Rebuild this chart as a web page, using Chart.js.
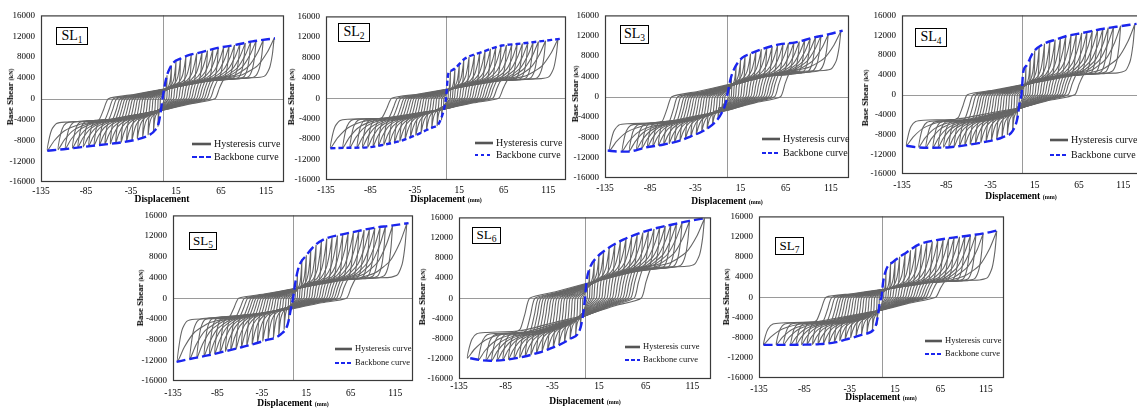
<!DOCTYPE html>
<html>
<head>
<meta charset="utf-8">
<script src="https://cdn.jsdelivr.net/npm/chart.js@4.4.0/dist/chart.umd.min.js"></script>
<style>
  body { margin: 0; background: #fff; width: 1137px; height: 410px; overflow: hidden; position: relative;
         font-family: 'Liberation Serif', 'Times New Roman', serif; color: #000; }
  canvas { position: absolute; }
  .ytitle { position: absolute; transform: translate(-50%, -50%) rotate(-90deg); white-space: nowrap; font-weight: bold; font-size: 9px; }
  .xtitle { position: absolute; transform: translate(-50%, -50%); white-space: nowrap; font-weight: bold; font-size: 9.5px; }
  .ytitle small, .xtitle small { font-size: 6px; }
  .tag { position: absolute; box-sizing: border-box; border: 1px solid #000; background: #fff; font-size: 14px;
         text-align: center; white-space: nowrap; }
  .tag sub { font-size: 9.5px; vertical-align: -3px; line-height: 0; }
</style>
</head>
<body>
<script>
// axes (same for all seven panels)
const xTicks = [-135, -85, -35, 15, 65, 115];
const yTicks = [-16000, -12000, -8000, -4000, 0, 4000, 8000, 12000, 16000];

// SL1
const sl1BackboneDisp  = [-128, -110, -90, -70, -50, -30, -15, -8, -4, -2, 0, 3, 5, 8, 12, 20, 30, 40, 60, 80, 100, 125];
const sl1BackboneForce = [-10000, -9700, -9300, -8900, -8500, -7900, -7000, -6000, -4500, -2500, 0, 3000, 4500, 5800, 6900, 7700, 8400, 8800, 9700, 10300, 11000, 11600];
const sl1PeakDispPos   = [5, 10, 15, 20, 26, 32, 38, 44, 50, 56, 62, 68, 74, 80, 86, 92, 98, 104, 112, 124];
const sl1PeakForcePos  = [4500, 6400, 7200, 7700, 8100, 8500, 8700, 9000, 9250, 9500, 9750, 9950, 10100, 10300, 10500, 10700, 10900, 11100, 11300, 11600];
const sl1PeakDispNeg   = [-5, -10, -16, -22, -28, -34, -40, -46, -52, -58, -64, -70, -76, -82, -88, -94, -100, -108, -116, -128];
const sl1PeakForceNeg  = [-5300, -6300, -6900, -7300, -7600, -8000, -8200, -8350, -8550, -8650, -8800, -8900, -9000, -9100, -9250, -9350, -9500, -9650, -9800, -10000];
const sl1Plateau       = [0.35, 0.45];

// SL2
const sl2BackboneDisp  = [-130, -110, -87, -70, -50, -35, -24, -15, -8.6, -3, 0, 2.6, 5, 10, 21, 40, 63, 80, 100, 128];
const sl2BackboneForce = [-9800, -9700, -9600, -9100, -8300, -7300, -6400, -5700, -5100, -2600, 0, 4800, 5300, 5800, 7700, 9000, 10300, 10600, 11000, 11600];
const sl2PeakDispPos   = [5, 10, 15, 20, 26, 32, 38, 44, 50, 56, 62, 68, 74, 80, 86, 92, 98, 104, 112, 126];
const sl2PeakForcePos  = [5300, 5800, 6700, 7500, 8100, 8500, 8900, 9300, 9650, 9950, 10250, 10400, 10500, 10600, 10700, 10800, 10950, 11100, 11250, 11600];
const sl2PeakDispNeg   = [-5, -10, -16, -22, -28, -34, -40, -46, -52, -58, -64, -70, -76, -82, -88, -94, -100, -108, -116, -130];
const sl2PeakForceNeg  = [-4200, -5400, -5800, -6300, -6700, -7200, -7600, -8000, -8400, -8700, -8900, -9100, -9300, -9450, -9600, -9620, -9650, -9680, -9720, -9800];
const sl2Plateau       = [0.33, 0.42];

// SL3
const sl3BackboneDisp  = [-132, -120, -110, -90, -70, -53, -40, -27, -12, -5, -1, 0, 4, 8, 17, 25, 39, 58, 76, 95, 113, 128];
const sl3BackboneForce = [-10600, -10800, -10800, -10000, -9400, -8700, -7800, -6800, -4800, -2900, -1000, 0, 3500, 5500, 7700, 8400, 9400, 10300, 10700, 11600, 12300, 13000];
const sl3PeakDispPos   = [5, 10, 15, 20, 26, 32, 38, 44, 50, 56, 62, 68, 74, 80, 86, 92, 98, 104, 112, 126];
const sl3PeakForcePos  = [4000, 6000, 7300, 8000, 8500, 8900, 9350, 9650, 9900, 10150, 10400, 10550, 10650, 10850, 11150, 11400, 11700, 12000, 12250, 12900];
const sl3PeakDispNeg   = [-5, -10, -16, -22, -28, -34, -40, -46, -52, -58, -64, -70, -76, -82, -88, -94, -100, -108, -116, -130];
const sl3PeakForceNeg  = [-2900, -4300, -5600, -6300, -6900, -7400, -7800, -8200, -8600, -8900, -9200, -9400, -9600, -9750, -9950, -10150, -10400, -10700, -10800, -10650];
const sl3Plateau       = [0.40, 0.50];

// SL4
const sl4BackboneDisp  = [-130, -119, -100, -81, -60, -44, -21.5, -10, -4.5, -1.9, 0, 1.9, 5.7, 13, 24.5, 40, 51, 70, 89, 107, 130];
const sl4BackboneForce = [-10300, -10600, -10700, -10600, -10100, -9600, -8600, -7300, -4650, -1350, 0, 4550, 5900, 8500, 10200, 11200, 11850, 12500, 13200, 13700, 14300];
const sl4PeakDispPos   = [5, 10, 15, 20, 26, 32, 38, 44, 50, 56, 62, 68, 74, 80, 86, 92, 98, 104, 112, 128];
const sl4PeakForcePos  = [5700, 7600, 8900, 9700, 10300, 10800, 11100, 11450, 11800, 12050, 12250, 12450, 12650, 12900, 13100, 13300, 13500, 13700, 13900, 14200];
const sl4PeakDispNeg   = [-5, -10, -16, -22, -28, -34, -40, -46, -52, -58, -64, -70, -76, -82, -88, -94, -100, -108, -116, -130];
const sl4PeakForceNeg  = [-4800, -7300, -8000, -8600, -8950, -9200, -9450, -9650, -9850, -10000, -10150, -10300, -10450, -10600, -10620, -10650, -10700, -10680, -10600, -10300];
const sl4Plateau       = [0.31, 0.50];

// SL5
const sl5BackboneDisp  = [-131, -115, -96, -75, -58, -32, -13.5, -6, -2.2, 0, 3.4, 7, 14.6, 24, 35, 54, 72.6, 91, 110, 130];
const sl5BackboneForce = [-12300, -11700, -11060, -10200, -9480, -8200, -6950, -5060, -1900, 0, 3800, 6300, 8200, 10100, 11400, 12300, 12960, 13600, 14000, 14500];
const sl5PeakDispPos   = [5, 10, 15, 20, 26, 32, 38, 44, 50, 56, 62, 68, 74, 80, 86, 92, 98, 104, 112, 128];
const sl5PeakForcePos  = [5000, 7500, 8300, 9300, 10300, 11000, 11500, 11800, 12100, 12350, 12550, 12750, 12950, 13150, 13350, 13550, 13700, 13850, 14000, 14400];
const sl5PeakDispNeg   = [-5, -10, -16, -22, -28, -34, -40, -46, -52, -58, -64, -70, -76, -82, -88, -94, -100, -108, -116, -130];
const sl5PeakForceNeg  = [-4600, -6000, -7200, -7600, -7900, -8250, -8550, -8850, -9150, -9450, -9750, -10000, -10250, -10500, -10750, -10950, -11200, -11500, -11750, -12300];
const sl5Plateau       = [0.28, 0.33];

// SL6
const sl6BackboneDisp  = [-123, -110, -101.5, -85, -66, -50, -37.5, -16, -5.3, -1.8, 0, 1.8, 5.4, 12.5, 23, 41, 59, 77, 95, 112, 130];
const sl6BackboneForce = [-11900, -12300, -12400, -12200, -11600, -10800, -10000, -8060, -6130, -2900, 0, 3550, 6100, 8060, 9700, 11600, 12900, 13900, 14640, 15300, 15900];
const sl6PeakDispPos   = [5, 10, 15, 20, 26, 32, 38, 44, 50, 56, 62, 68, 74, 80, 86, 92, 98, 104, 112, 128];
const sl6PeakForcePos  = [5800, 7700, 8700, 9300, 10000, 10700, 11300, 11800, 12200, 12600, 13000, 13350, 13700, 14000, 14300, 14550, 14800, 15000, 15300, 15800];
const sl6PeakDispNeg   = [-5, -10, -16, -22, -28, -34, -40, -46, -52, -58, -64, -70, -76, -82, -88, -94, -100, -106, -114, -126];
const sl6PeakForceNeg  = [-6000, -7300, -8050, -8700, -9200, -9650, -10200, -10500, -10900, -11200, -11500, -11750, -11950, -12150, -12250, -12350, -12400, -12380, -12250, -11900];
const sl6Plateau       = [0.40, 0.57];

// SL7
const sl7BackboneDisp  = [-130, -105, -85, -68, -50, -38.5, -20, -7.3, -3.7, -1.8, 0, 1.8, 5.5, 12.8, 27.5, 42, 60.6, 79, 97, 115.6, 128.5];
const sl7BackboneForce = [-9440, -9440, -9400, -9300, -8900, -8340, -7370, -6070, -3470, -870, 0, 3000, 5600, 7000, 8860, 10500, 11300, 11800, 12230, 12750, 13270];
const sl7PeakDispPos   = [5, 10, 15, 20, 26, 32, 38, 44, 50, 56, 62, 68, 74, 80, 86, 92, 98, 104, 112, 127];
const sl7PeakForcePos  = [5500, 6700, 7300, 8000, 8600, 9300, 9900, 10400, 10800, 11000, 11250, 11450, 11600, 11800, 11950, 12100, 12250, 12400, 12600, 13100];
const sl7PeakDispNeg   = [-5, -10, -16, -22, -28, -34, -40, -46, -52, -58, -64, -70, -76, -82, -88, -94, -100, -108, -116, -130];
const sl7PeakForceNeg  = [-5400, -6500, -7100, -7350, -7700, -8000, -8350, -8600, -8900, -9050, -9200, -9300, -9340, -9380, -9400, -9410, -9420, -9440, -9440, -9440];
const sl7Plateau       = [0.26, 0.54];

// shape of one pinched cycle: x as fraction of peak disp, y in "levels"
// (0..1 = fraction of plateau force, 1..2 = plateau -> peak)
const loopShapeX = [1.00, 0.985, 0.96, 0.92, 0.85, 0.55, 0.25, 0.00, -0.25, -0.47, -0.51, -0.55, -0.60, -0.72, -0.85, -0.94, -1.00,
                    -0.985, -0.96, -0.92, -0.85, -0.55, -0.25, 0.00, 0.25, 0.47, 0.51, 0.55, 0.60, 0.72, 0.85, 0.94, 1.00];
const loopShapeY = [2.0, 1.6, 1.25, 1.05, 1.0, 0.95, 0.68, 0.45, 0.20, 0.0, -0.45, -0.9, -1.0, -1.08, -1.3, -1.65, -2.0,
                    -1.6, -1.25, -1.05, -1.0, -0.95, -0.70, -0.50, -0.22, 0.0, 0.5, 0.92, 1.0, 1.08, 1.3, 1.65, 2.0];

const panels = [
  { tag: "1", bbX: sl1BackboneDisp, bbY: sl1BackboneForce, xp: sl1PeakDispPos, yp: sl1PeakForcePos, xn: sl1PeakDispNeg, yn: sl1PeakForceNeg, plat: sl1Plateau, xTitle: "Displacement" },
  { tag: "2", bbX: sl2BackboneDisp, bbY: sl2BackboneForce, xp: sl2PeakDispPos, yp: sl2PeakForcePos, xn: sl2PeakDispNeg, yn: sl2PeakForceNeg, plat: sl2Plateau, xTitle: "Displacement (mm)" },
  { tag: "3", bbX: sl3BackboneDisp, bbY: sl3BackboneForce, xp: sl3PeakDispPos, yp: sl3PeakForcePos, xn: sl3PeakDispNeg, yn: sl3PeakForceNeg, plat: sl3Plateau, xTitle: "Displacement (mm)" },
  { tag: "4", bbX: sl4BackboneDisp, bbY: sl4BackboneForce, xp: sl4PeakDispPos, yp: sl4PeakForcePos, xn: sl4PeakDispNeg, yn: sl4PeakForceNeg, plat: sl4Plateau, xTitle: "Displacement (mm)" },
  { tag: "5", bbX: sl5BackboneDisp, bbY: sl5BackboneForce, xp: sl5PeakDispPos, yp: sl5PeakForcePos, xn: sl5PeakDispNeg, yn: sl5PeakForceNeg, plat: sl5Plateau, xTitle: "Displacement (mm)" },
  { tag: "6", bbX: sl6BackboneDisp, bbY: sl6BackboneForce, xp: sl6PeakDispPos, yp: sl6PeakForcePos, xn: sl6PeakDispNeg, yn: sl6PeakForceNeg, plat: sl6Plateau, xTitle: "Displacement (mm)" },
  { tag: "7", bbX: sl7BackboneDisp, bbY: sl7BackboneForce, xp: sl7PeakDispPos, yp: sl7PeakForcePos, xn: sl7PeakDispNeg, yn: sl7PeakForceNeg, plat: sl7Plateau, xTitle: "Displacement (mm)" }
];

// page layout: plot box [L,T,R,B], tick pad, title spots, tag box, legend spot
const layout = [
  { box: [41, 12, 284, 182],   pad: 4, yt: [10, 97],  xt: [162, 199],  tag: [56, 27, 32, 18],  lg: [192, 144, 157, 19, 10], dash: [9, 4], ldash: [5, 2] },
  { box: [326, 13, 566, 180],  pad: 5, yt: [291, 97], xt: [446, 199],  tag: [338, 23, 32, 19], lg: [475, 143, 155, 18, 10], dash: [5, 3], ldash: [3, 3] },
  { box: [605, 12, 849, 178],  pad: 5, yt: [575, 94], xt: [727, 201],  tag: [620, 25, 29, 19], lg: [762, 139, 153, 18, 10], dash: [9, 4], ldash: [4, 2] },
  { box: [902, 12, 1141, 174], pad: 6, yt: [865, 98], xt: [1021, 196], tag: [915, 28, 32, 19], lg: [1050, 140, 155, 18, 10], dash: [9, 4], ldash: [4, 2] },
  { box: [173, 212, 413, 381], pad: 7, yt: [140, 298], xt: [293, 403], tag: [189, 232, 28, 18], lg: [335, 349, 363, 17, 8.5], dash: [9, 4], ldash: [4, 2] },
  { box: [459, 214, 711, 379], pad: 2, yt: [422, 297], xt: [585, 401], tag: [472, 227, 29, 17], lg: [625, 347, 360, 15, 8.5], dash: [9, 4], ldash: [4, 2] },
  { box: [759, 213, 1004, 378], pad: 6, yt: [726, 297], xt: [881, 397], tag: [775, 237, 29, 18], lg: [925, 341, 354, 17, 8.5], dash: [9, 4], ldash: [4, 2] }
];

const BLUE = "#1b25ee";
const GREY = "#666666";
const Y_W = 50, X_H = 18, PAD_T = 8, PAD_R = 10;

Chart.defaults.font.family = "'Liberation Serif', 'Times New Roman', serif";
Chart.defaults.color = "#000";

function loopPoints(D, F, Dn, Fn, plat) {
  const pp = plat[0] * F, pn = plat[1] * Fn;
  return loopShapeX.map((fx, k) => {
    const v = loopShapeY[k];
    const x = fx >= 0 ? fx * D : -fx * Dn;
    let y;
    if (v >= 0) y = v <= 1 ? v * pp : pp + (v - 1) * (F - pp);
    else { const a = -v; y = a <= 1 ? a * pn : pn + (a - 1) * (Fn - pn); }
    return { x, y };
  });
}

const framePlugin = {
  id: "frame",
  beforeDatasetsDraw(chart) {
    const { ctx, chartArea: a, scales } = chart;
    const x0 = Math.round(scales.x.getPixelForValue(0)) + 0.5;
    const y0 = Math.round(scales.y.getPixelForValue(0)) + 0.5;
    ctx.save();
    ctx.strokeStyle = "#9a9a9a";
    ctx.lineWidth = 1;
    ctx.beginPath();
    ctx.moveTo(x0, a.top); ctx.lineTo(x0, a.bottom);
    ctx.moveTo(a.left, y0); ctx.lineTo(a.right, y0);
    ctx.stroke();
    ctx.restore();
  },
  afterDatasetsDraw(chart) {
    const { ctx, chartArea: a } = chart;
    ctx.save();
    ctx.strokeStyle = "#3a3a3a";
    ctx.lineWidth = 1.2;
    ctx.strokeRect(a.left + 0.5, a.top + 0.5, a.right - a.left - 1, a.bottom - a.top - 1);
    ctx.restore();
  }
};

const legendPlugin = {
  id: "curveLegend",
  afterDraw(chart, args, o) {
    const ctx = chart.ctx;
    ctx.save();
    ctx.lineWidth = 2.6;
    ctx.strokeStyle = "#555";
    ctx.beginPath(); ctx.moveTo(o.x, o.y1); ctx.lineTo(o.x + o.len, o.y1); ctx.stroke();
    ctx.strokeStyle = BLUE;
    ctx.lineWidth = 2.2;
    ctx.setLineDash(o.dash);
    ctx.beginPath(); ctx.moveTo(o.x, o.y2); ctx.lineTo(o.x + o.len, o.y2); ctx.stroke();
    ctx.setLineDash([]);
    ctx.fillStyle = "#111";
    ctx.font = o.size + "px 'Liberation Serif', 'Times New Roman', serif";
    ctx.textBaseline = "middle";
    ctx.fillText("Hysteresis curve", o.x + o.len + 3, o.y1);
    ctx.fillText("Backbone curve", o.x + o.len + 3, o.y2);
    ctx.restore();
  }
};

function addText(cls, html, x, y) {
  const d = document.createElement("div");
  d.className = cls;
  d.innerHTML = html;
  d.style.left = x + "px";
  d.style.top = y + "px";
  document.body.appendChild(d);
}

panels.forEach((p, i) => {
  const L = layout[i];
  const [bl, bt, br, bb] = L.box;
  const cl = bl - Y_W, ct = bt - PAD_T;
  const canvas = document.createElement("canvas");
  canvas.width = br - bl + Y_W + PAD_R;
  canvas.height = bb - bt + PAD_T + X_H;
  canvas.style.left = cl + "px";
  canvas.style.top = ct + "px";
  document.body.appendChild(canvas);

  const datasets = [{
    data: p.bbX.map((x, k) => ({ x, y: p.bbY[k] })),
    showLine: true, borderColor: BLUE, borderWidth: 2.4, borderDash: L.dash,
    cubicInterpolationMode: "monotone", pointRadius: 0
  }];
  p.xp.forEach((D, k) => {
    datasets.push({
      data: loopPoints(D, p.yp[k], p.xn[k], p.yn[k], p.plat),
      showLine: true, borderColor: GREY, borderWidth: 1.1, tension: 0.2, pointRadius: 0
    });
  });

  new Chart(canvas, {
    type: "scatter",
    data: { datasets },
    options: {
      responsive: false,
      animation: false,
      events: [],
      layout: { padding: { top: PAD_T, right: PAD_R, left: 0, bottom: 0 } },
      plugins: {
        legend: { display: false },
        tooltip: { enabled: false },
        curveLegend: { x: L.lg[0] - cl, y1: L.lg[1] - ct, y2: L.lg[2] - ct, len: L.lg[3], size: L.lg[4], dash: L.ldash }
      },
      scales: {
        x: {
          type: "linear", min: -135, max: 135,
          afterBuildTicks: s => { s.ticks = xTicks.map(v => ({ value: v })); },
          afterFit: s => { s.height = X_H; },
          grid: { display: false, drawTicks: false },
          border: { display: false },
          ticks: { padding: L.pad, maxRotation: 0, autoSkip: false, font: { size: 9.5 }, callback: v => String(v) }
        },
        y: {
          type: "linear", min: -16000, max: 16000,
          afterBuildTicks: s => { s.ticks = yTicks.map(v => ({ value: v })); },
          afterFit: s => { s.width = Y_W; },
          grid: { display: false, drawTicks: false },
          border: { display: false },
          ticks: { padding: 6, autoSkip: false, font: { size: 9 }, callback: v => String(v) }
        }
      }
    },
    plugins: [framePlugin, legendPlugin]
  });

  addText("ytitle", "Base Shear <small>(kN)</small>", L.yt[0], L.yt[1]);
  const xt = p.xTitle.replace("(mm)", "<small>(mm)</small>");
  addText("xtitle", xt, L.xt[0], L.xt[1]);
  const t = document.createElement("div");
  t.className = "tag";
  t.innerHTML = "SL<sub>" + p.tag + "</sub>";
  t.style.left = L.tag[0] + "px";
  t.style.top = L.tag[1] + "px";
  t.style.width = L.tag[2] + "px";
  t.style.height = L.tag[3] + "px";
  t.style.lineHeight = (L.tag[3] - 3) + "px";
  if (i >= 4) t.style.fontSize = "13px";
  document.body.appendChild(t);
});
</script>
</body>
</html>
